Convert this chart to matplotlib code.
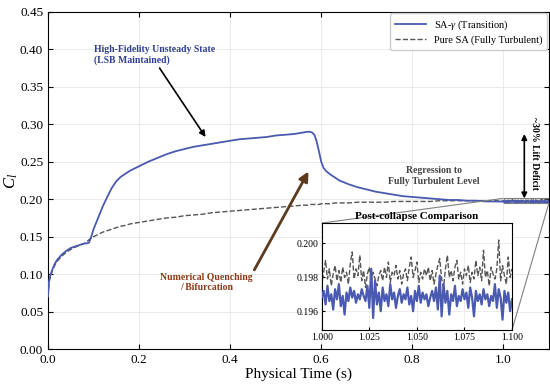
import numpy as np
import matplotlib
matplotlib.use("Agg")
import matplotlib.pyplot as plt
from mpl_toolkits.axes_grid1.inset_locator import mark_inset

plt.rcParams['font.family'] = ['Liberation Serif', 'DejaVu Serif']
plt.rcParams['mathtext.fontset'] = 'custom'
plt.rcParams['mathtext.rm'] = 'Liberation Serif'
plt.rcParams['mathtext.it'] = 'Liberation Serif:italic'

# ---------------- data ----------------
t_main = [0.0, 0.002, 0.005, 0.01, 0.015, 0.02, 0.03, 0.04, 0.05, 0.06, 0.07, 0.08,
          0.085, 0.09, 0.095, 0.10, 0.11, 0.12, 0.13, 0.14, 0.15, 0.16, 0.17, 0.18,
          0.20, 0.22, 0.24, 0.26, 0.28, 0.30, 0.32, 0.34, 0.36, 0.38, 0.40, 0.42,
          0.44, 0.46, 0.48, 0.50, 0.52, 0.54, 0.56, 0.57, 0.575, 0.58, 0.585, 0.59,
          0.595, 0.60, 0.605, 0.61, 0.62, 0.63, 0.64, 0.66, 0.68, 0.70, 0.72, 0.74,
          0.76, 0.78, 0.80, 0.82, 0.84, 0.86, 0.88, 0.90, 0.92, 0.94, 0.96, 0.98]

cl_sag_main = [0.070, 0.090, 0.098, 0.107, 0.114, 0.119, 0.126, 0.131, 0.135, 0.137, 0.139, 0.141,
               0.141, 0.142, 0.150, 0.160, 0.175, 0.190, 0.203, 0.215, 0.224, 0.230, 0.234, 0.238,
               0.244, 0.250, 0.255, 0.260, 0.264, 0.267, 0.270, 0.272, 0.274, 0.276, 0.278, 0.280,
               0.281, 0.282, 0.283, 0.285, 0.286, 0.287, 0.289, 0.290, 0.290, 0.289, 0.286, 0.277,
               0.264, 0.250, 0.242, 0.238, 0.233, 0.229, 0.225, 0.220, 0.216, 0.213, 0.210, 0.208,
               0.206, 0.204, 0.203, 0.202, 0.201, 0.200, 0.199, 0.199, 0.198, 0.198, 0.197, 0.197]

cl_sa_main = [0.070, 0.088, 0.097, 0.105, 0.112, 0.117, 0.124, 0.129, 0.133, 0.136, 0.139, 0.141,
              0.143, 0.146, 0.148, 0.150, 0.153, 0.156, 0.158, 0.160, 0.162, 0.164, 0.165, 0.167,
              0.169, 0.171, 0.173, 0.175, 0.176, 0.178, 0.179, 0.180, 0.182, 0.183, 0.184, 0.185,
              0.186, 0.187, 0.188, 0.189, 0.190, 0.191, 0.192, 0.192, 0.193, 0.193, 0.193, 0.193,
              0.193, 0.194, 0.194, 0.194, 0.194, 0.195, 0.195, 0.195, 0.196, 0.196, 0.196, 0.196,
              0.197, 0.197, 0.197, 0.197, 0.197, 0.198, 0.198, 0.198, 0.198, 0.198, 0.198, 0.198]

# post-collapse window 1.000 ... 1.100 s, sampled every 1 ms
t_post_start, t_post_end, n_post = 1.0, 1.1, 101

cl_sag_post = [0.1968, 0.1972, 0.1964, 0.1975, 0.1966, 0.1970, 0.1961, 0.1973, 0.1967, 0.1976,
               0.1963, 0.1969, 0.1958, 0.1971, 0.1966, 0.1974, 0.1968, 0.1972, 0.1965, 0.1970,
               0.1967, 0.1973, 0.1969, 0.1966, 0.1975, 0.1962, 0.1985, 0.1956, 0.1978, 0.1964,
               0.1971, 0.1960, 0.1974, 0.1966, 0.1970, 0.1963, 0.1976, 0.1967, 0.1971, 0.1962,
               0.1969, 0.1973, 0.1965, 0.1970, 0.1967, 0.1974, 0.1964, 0.1969, 0.1960, 0.1972,
               0.1966, 0.1975, 0.1965, 0.1971, 0.1967, 0.1970, 0.1963, 0.1968, 0.1972, 0.1966,
               0.1974, 0.1961, 0.1981, 0.1957, 0.1976, 0.1965, 0.1972, 0.1958, 0.1970, 0.1966,
               0.1975, 0.1963, 0.1969, 0.1966, 0.1973, 0.1967, 0.1971, 0.1962, 0.1974, 0.1968,
               0.1957, 0.1972, 0.1966, 0.1970, 0.1964, 0.1973, 0.1967, 0.1970, 0.1963, 0.1969,
               0.1966, 0.1976, 0.1962, 0.1973, 0.1968, 0.1955, 0.1972, 0.1965, 0.1971, 0.1960,
               0.1967]

cl_sa_post = [0.1976, 0.1983, 0.1990, 0.1979, 0.1985, 0.1975, 0.1982, 0.1987, 0.1978, 0.1984,
              0.1977, 0.1986, 0.1980, 0.1983, 0.1976, 0.1988, 0.1995, 0.1979, 0.1985, 0.1981,
              0.1993, 0.1978, 0.1984, 0.1974, 0.1982, 0.1986, 0.1977, 0.1983, 0.1979, 0.1975,
              0.1981, 0.1984, 0.1978, 0.1986, 0.1980, 0.1989, 0.1977, 0.1983, 0.1981, 0.1987,
              0.1979, 0.1984, 0.1976, 0.1982, 0.1985, 0.1978, 0.1986, 0.1992, 0.1980, 0.1984,
              0.1989, 0.1977, 0.1983, 0.1979, 0.1985, 0.1981, 0.1986, 0.1978, 0.1984, 0.1976,
              0.1982, 0.1987, 0.1991, 0.1979, 0.1974, 0.1985, 0.1993, 0.1980, 0.1984, 0.1978,
              0.1986, 0.1990, 0.1979, 0.1983, 0.1976, 0.1985, 0.1981, 0.1987, 0.1977, 0.1983,
              0.1979, 0.1990, 0.1981, 0.1986, 0.1978, 0.1996, 0.1980, 0.1984, 0.1975, 0.1986,
              0.1982, 0.1979, 0.1985, 0.2002, 0.1978, 0.1987, 0.1981, 0.1976, 0.1992, 0.1980,
              0.1985]

labels = ["SA-$\\gamma$ (Transition)", "Pure SA (Fully Turbulent)"]

# ---------------- assemble ----------------
t_post = np.linspace(t_post_start, t_post_end, n_post)
t_all = np.concatenate([t_main, t_post])
cl_sag = np.concatenate([cl_sag_main, cl_sag_post])
cl_sa = np.concatenate([cl_sa_main, cl_sa_post])

BLUE = '#4A5AB0'
GRAY = '#555555'

fig = plt.figure(figsize=(5.5, 3.84), dpi=100)
ax = fig.add_axes([0.0873, 0.091, 0.9107, 0.878])

ax.plot(t_all, cl_sag, color=BLUE, lw=1.3, label=labels[0], zorder=3)
ax.plot(t_all, cl_sa, color=GRAY, lw=1.0, ls='--', label=labels[1], zorder=2)

ax.set_xlim(0, 1.1)
ax.set_ylim(0, 0.45)
ax.set_xticks([0.0, 0.2, 0.4, 0.6, 0.8, 1.0])
ax.set_yticks(np.arange(0, 0.451, 0.05))
ax.set_yticklabels([f"{v:.2f}" for v in np.arange(0, 0.451, 0.05)])
ax.set_xticklabels([f"{v:.1f}" for v in [0.0, 0.2, 0.4, 0.6, 0.8, 1.0]])
ax.tick_params(direction='in', top=True, right=True, labelsize=9.5, length=3.5)
ax.grid(True, color='#e6e6e6', lw=0.6)
ax.set_xlabel("Physical Time (s)", fontsize=11, labelpad=1)
ax.set_ylabel("$C_l$", fontsize=12, labelpad=0)

leg = ax.legend(loc='upper right', fontsize=7.5, frameon=True, fancybox=True,
                edgecolor='#cccccc', framealpha=1.0, handlelength=3.0,
                borderpad=0.45, labelspacing=0.35, borderaxespad=0.15)

# annotations
ax.text(0.100, 0.392, "High-Fidelity Unsteady State\n(LSB Maintained)",
        fontsize=7, fontweight='bold', color='#2F3F8F', ha='left', va='center')
ax.annotate("", xy=(0.346, 0.283), xytext=(0.245, 0.375),
            arrowprops=dict(arrowstyle='-|>', color='black', lw=1.2,
                            shrinkA=0, shrinkB=0, mutation_scale=9))

ax.annotate("Numerical Quenching\n/ Bifurcation",
            xy=(0.572, 0.237), xytext=(0.348, 0.089),
            fontsize=7, fontweight='bold', color='#8B3A1A', ha='center', va='center',
            arrowprops=dict(arrowstyle='-|>', color='#5C3A1E', lw=2.0,
                            shrinkA=0, shrinkB=0, mutation_scale=14,
                            relpos=(1.0, 1.0)))

ax.text(0.848, 0.231, "Regression to\nFully Turbulent Level", fontsize=7,
        fontweight='bold', color='#444444', ha='center', va='center')

ax.annotate("", xy=(1.046, 0.287), xytext=(1.046, 0.201),
            arrowprops=dict(arrowstyle='<|-|>', color='black', lw=1.2,
                            shrinkA=0, shrinkB=0, mutation_scale=8))
ax.text(1.069, 0.261, "~30% Lift Deficit", rotation=270, fontsize=7,
        fontweight='bold', ha='center', va='center')

# inset
axins = fig.add_axes([0.585, 0.141, 0.346, 0.278])
axins.plot(t_all, cl_sag, color=BLUE, lw=1.6, zorder=3)
axins.plot(t_all, cl_sa, color=GRAY, lw=1.0, ls='--', zorder=2)
axins.set_xlim(1.0, 1.1)
axins.set_ylim(0.1949, 0.2012)
axins.set_xticks([1.0, 1.025, 1.05, 1.075, 1.1])
axins.set_xticklabels(["1.000", "1.025", "1.050", "1.075", "1.100"])
axins.set_yticks([0.196, 0.198, 0.200])
axins.set_yticklabels(["0.196", "0.198", "0.200"])
axins.tick_params(direction='in', labelsize=7, length=2.5, pad=2)
axins.grid(True, color='#e6e6e6', lw=0.5)
axins.set_title("Post-collapse Comparison", fontsize=8, fontweight='bold', pad=3)

mark_inset(ax, axins, loc1=2, loc2=4, fc='none', ec='0.5', lw=0.8)

fig.savefig("out.png", dpi=100)
